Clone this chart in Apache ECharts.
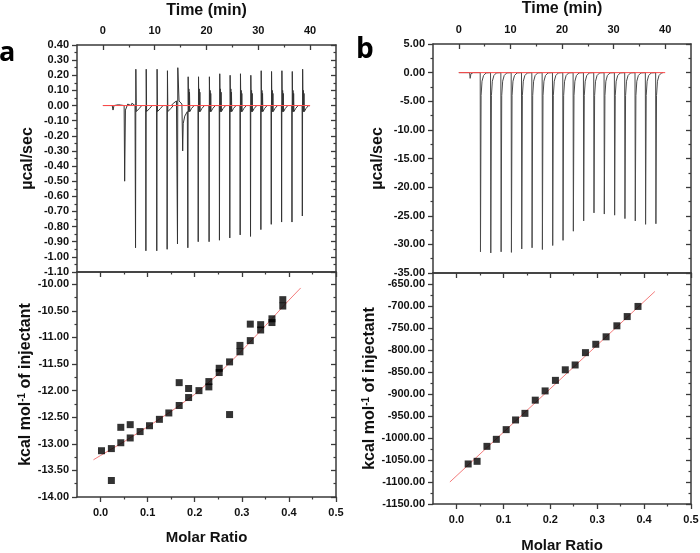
<!DOCTYPE html>
<html><head><meta charset="utf-8">
<script src="https://cdn.jsdelivr.net/npm/echarts@6/dist/echarts.min.js"></script>
<style>html,body{margin:0;padding:0;background:#fff}#c{width:700px;height:553px}</style>
</head><body><div id="c"></div>
<script>
// ================= DATA =================
// tick values
const timeTicks = [0, 10, 20, 30, 40];
const timeMinor = [5, 15, 25, 35];
const ratioTicks = [0.0, 0.1, 0.2, 0.3, 0.4, 0.5];
const ratioMinor = [0.05, 0.15, 0.25, 0.35, 0.45];
const aRawTicks = [0.40, 0.30, 0.20, 0.10, 0.00, -0.10, -0.20, -0.30, -0.40, -0.50, -0.60, -0.70, -0.80, -0.90, -1.00, -1.10];
const aRawMinor = [0.35, 0.25, 0.15, 0.05, -0.05, -0.15, -0.25, -0.35, -0.45, -0.55, -0.65, -0.75, -0.85, -0.95, -1.05];
const aHeatTicks = [-14.0, -13.5, -13.0, -12.5, -12.0, -11.5, -11.0, -10.5, -10.0];
const aHeatMinor = [-13.75, -13.25, -12.75, -12.25, -11.75, -11.25, -10.75, -10.25];
const bRawTicks = [5, 0, -5, -10, -15, -20, -25, -30, -35];
const bRawMinor = [2.5, -2.5, -7.5, -12.5, -17.5, -22.5, -27.5, -32.5];
const bHeatTicks = [-1150, -1100, -1050, -1000, -950, -900, -850, -800, -750, -700, -650];
const bHeatMinor = [-1125, -1075, -1025, -975, -925, -875, -825, -775, -725, -675];

// panel a raw thermogram (time in min, ucal/sec)
const aPre = [[0, 0], [1.8, 0.0], [1.95, -0.03], [2.15, 0.0], [3.0, 0.005], [4.1, 0.0], [4.2, -0.50], [4.35, -0.03], [4.8, 0.01], [5.4, 0.0], [5.6, 0.015], [6.2, 0.0]];
const aInjT = [6.3, 8.3, 10.4, 12.4, 14.4, 16.4, 18.4, 20.5, 22.5, 24.5, 26.5, 28.5, 30.5, 32.5, 34.5, 36.5, 38.5];
const aNeg = [-0.94, -0.96, -0.96, -0.95, -0.915, -0.94, -0.90, -0.90, -0.89, -0.875, -0.855, -0.865, -0.82, -0.785, -0.77, -0.77, -0.73];
const aPos = [0.24, 0.24, 0.24, 0.23, 0.25, 0.19, 0.19, 0.19, 0.21, 0.20, 0.21, 0.20, 0.23, 0.225, 0.23, 0.225, 0.24];
const aSec = [0, 0, 0, 0, 0, 0.11, 0.11, 0.10, 0.11, 0.11, 0.10, 0.10, 0.10, 0.10, 0.10, 0.10, 0.10];
const aHump = [[13.2, 0.0], [13.6, 0.015], [14.2, 0.03], [14.7, 0.03], [15.0, 0.04], [15.25, 0.01], [15.4, -0.30], [15.5, -0.12], [15.8, -0.07], [16.3, -0.04]];
const aBase = [[0, 0], [40, 0]];

// panel a integrated heats
const aRatio = [0.002, 0.023, 0.023, 0.043, 0.043, 0.063, 0.063, 0.084, 0.104, 0.125, 0.145, 0.167, 0.167, 0.187, 0.187, 0.209, 0.230, 0.230, 0.252, 0.252, 0.274, 0.274, 0.296, 0.296, 0.318, 0.318, 0.340, 0.340, 0.364, 0.364, 0.387, 0.387];
const aHeat = [-13.13, -13.09, -13.69, -12.98, -12.69, -12.89, -12.64, -12.77, -12.66, -12.54, -12.42, -12.28, -11.85, -12.13, -11.96, -12.00, -11.83, -11.93, -11.58, -11.66, -11.46, -12.45, -11.15, -11.27, -11.06, -10.75, -10.76, -10.86, -10.65, -10.72, -10.29, -10.41];
const aFitX = [-0.015, 0.0, 0.05, 0.10, 0.15, 0.20, 0.25, 0.30, 0.35, 0.40, 0.425];
const aFitY = [-13.30, -13.22, -12.96, -12.68, -12.39, -12.07, -11.69, -11.25, -10.78, -10.30, -10.07];

// panel b raw thermogram
const bPre = [[0, 0], [2.1, 0], [2.2, -1.0], [2.35, -0.2], [2.8, 0]];
const bInjT = [4.2, 6.2, 8.2, 10.2, 12.2, 14.2, 16.2, 18.2, 20.2, 22.2, 24.2, 26.2, 28.2, 30.2, 32.2, 34.2, 36.2, 38.2];
const bNeg = [-31.3, -31.5, -31.3, -31.4, -30.8, -30.6, -30.9, -30.2, -29.3, -27.7, -25.9, -24.5, -24.7, -24.9, -25.5, -25.9, -26.5, -26.4];
const bBase = [[0, 0], [40, 0]];

// panel b integrated heats
const bRatio = [0.025, 0.044, 0.065, 0.085, 0.106, 0.126, 0.146, 0.168, 0.189, 0.211, 0.232, 0.253, 0.275, 0.297, 0.319, 0.342, 0.364, 0.387];
const bHeat = [-1059, -1053, -1019, -1003, -981, -959, -944, -914, -893, -869, -845, -834, -806, -787, -770, -745, -724, -701];
const bFitX = [-0.014, 0.423];
const bFitY = [-1100, -667];

// ================= BUILD =================
function traceA() {
  const pts = aPre.slice();
  for (let i = 0; i < aInjT.length; i++) {
    const t = aInjT[i];
    if (i === 4) { aHump.slice(0, 3).forEach(p => pts.push(p)); }
    pts.push([t - 0.04, pts[pts.length - 1][1]]);
    pts.push([t, aNeg[i]]);
    pts.push([t + 0.06, aPos[i]]);
    if (i === 4) { aHump.slice(3).forEach(p => pts.push(p)); continue; }
    pts.push([t + 0.14, -0.04]);
    if (aSec[i]) {
      pts.push([t + 0.2, aSec[i]]); pts.push([t + 0.26, -0.04]);
      pts.push([t + 0.32, aSec[i] * 0.8]); pts.push([t + 0.38, -0.04]);
    }
    pts.push([t + 0.7, -0.02]);
    pts.push([t + 1.2, 0.0]);
  }
  pts.push([39.8, -0.005]);
  return pts;
}
function traceB() {
  const pts = bPre.slice();
  for (let i = 0; i < bInjT.length; i++) {
    const t = bInjT[i];
    pts.push([t - 0.05, 0]);
    pts.push([t, bNeg[i]]);
    pts.push([t + 0.12, -4]);
    pts.push([t + 0.3, -1.5]);
    pts.push([t + 0.6, -0.5]);
    pts.push([t + 1.1, -0.05]);
  }
  pts.push([39.6, 0]);
  return pts;
}

const F = '"Liberation Sans", Arial, sans-serif';
const LC = '#3a3a3a';
const xAxis = [], yAxis = [];

function addAxes(list, g, pos, min, max, ticks, minor, opt) {
  const base = { gridIndex: g, type: 'value', min: min, max: max, position: pos, splitLine: { show: false }, silent: true };
  const main = Object.assign({}, base, {
    axisLine: { show: true, onZero: false, lineStyle: { color: LC, width: 1.5 } },
    axisTick: { show: !!ticks, inside: !!opt.inward, length: 5, customValues: ticks || [], lineStyle: { color: LC, width: 1.3 } },
    axisLabel: opt.labels ? { show: true, customValues: ticks, formatter: opt.fmt, margin: opt.margin, fontFamily: F, fontWeight: 'bold', fontSize: 11, color: '#111' } : { show: false }
  });
  if (opt.name) {
    main.name = opt.name; main.nameLocation = 'middle'; main.nameGap = opt.nameGap;
    main.nameTextStyle = { fontFamily: F, fontWeight: 'bold', fontSize: opt.nameSize, color: '#111', rich: opt.rich };
  }
  const idx = list.length;
  list.push(main);
  if (minor) {
    list.push(Object.assign({}, base, {
      axisLine: { show: false, onZero: false },
      axisTick: { show: true, inside: !!opt.inward, length: 2.5, customValues: minor, lineStyle: { color: LC, width: 1.2 } },
      axisLabel: { show: false }
    }));
  }
  return idx;
}

const f2 = v => v.toFixed(2);
const f1 = v => v.toFixed(1);
const fi = v => String(Math.round(v));
const supRich = { sup: { fontSize: 10, fontWeight: 'bold', fontFamily: F, color: '#111', verticalAlign: 'top', padding: [0, 0, 7, 0] } };

const grids = [
  { left: 77, top: 45, width: 259, height: 227 },
  { left: 77, top: 272, width: 259, height: 225 },
  { left: 433, top: 44, width: 258, height: 229 },
  { left: 433, top: 273, width: 258, height: 231 }
].map(g => Object.assign({ outerBoundsMode: 'none', containLabel: false, show: false }, g));

// Panel a top
const xa0 = addAxes(xAxis, 0, 'top', -5, 45, timeTicks, timeMinor, { inward: true, labels: true, fmt: fi, margin: 9, name: 'Time (min)', nameGap: 26, nameSize: 16 });
addAxes(xAxis, 0, 'bottom', -5, 45, null, null, {});
const ya0 = addAxes(yAxis, 0, 'left', -1.10, 0.40, aRawTicks, aRawMinor, { inward: false, labels: true, fmt: f2, margin: 8, name: 'µcal/sec', nameGap: 41, nameSize: 16 });
addAxes(yAxis, 0, 'right', -1.10, 0.40, aRawTicks, aRawMinor, { inward: true });
// Panel a bottom
const xa1 = addAxes(xAxis, 1, 'bottom', -0.05, 0.5, ratioTicks, ratioMinor, { inward: false, labels: true, fmt: f1, margin: 10, name: 'Molar Ratio', nameGap: 33, nameSize: 15 });
addAxes(xAxis, 1, 'top', -0.05, 0.5, ratioTicks, ratioMinor, { inward: true });
const ya1 = addAxes(yAxis, 1, 'left', -14.0, -9.77, aHeatTicks, aHeatMinor, { inward: false, labels: true, fmt: f2, margin: 8, name: 'kcal mol{sup|-1} of injectant', nameGap: 41, nameSize: 16, rich: supRich });
addAxes(yAxis, 1, 'right', -14.0, -9.77, aHeatTicks, aHeatMinor, { inward: true });
// Panel b top
const xb0 = addAxes(xAxis, 2, 'top', -5, 45, timeTicks, timeMinor, { inward: true, labels: true, fmt: fi, margin: 9, name: 'Time (min)', nameGap: 27, nameSize: 16 });
addAxes(xAxis, 2, 'bottom', -5, 45, null, null, {});
const yb0 = addAxes(yAxis, 2, 'left', -35, 5, bRawTicks, bRawMinor, { inward: false, labels: true, fmt: f2, margin: 8, name: 'µcal/sec', nameGap: 47, nameSize: 16 });
addAxes(yAxis, 2, 'right', -35, 5, bRawTicks, bRawMinor, { inward: true });
// Panel b bottom
const xb1 = addAxes(xAxis, 3, 'bottom', -0.05, 0.5, ratioTicks, ratioMinor, { inward: false, labels: true, fmt: f1, margin: 10, name: 'Molar Ratio', nameGap: 34, nameSize: 15 });
addAxes(xAxis, 3, 'top', -0.05, 0.5, ratioTicks, ratioMinor, { inward: true });
const yb1 = addAxes(yAxis, 3, 'left', -1150, -625, bHeatTicks, bHeatMinor, { inward: false, labels: true, fmt: f2, margin: 8, name: 'kcal mol{sup|-1} of injectant', nameGap: 47, nameSize: 16, rich: supRich });
addAxes(yAxis, 3, 'right', -1150, -625, bHeatTicks, bHeatMinor, { inward: true });

const lineS = (data, xi, yi, color, w, z) => ({ type: 'line', data: data, xAxisIndex: xi, yAxisIndex: yi, showSymbol: false, symbol: 'none', silent: true, lineStyle: { color: color, width: w }, z: z || 2, animation: false });
const scatS = (xs, ys, xi, yi) => ({ type: 'scatter', data: xs.map((x, i) => [x, ys[i]]), xAxisIndex: xi, yAxisIndex: yi, symbol: 'rect', symbolSize: 7, itemStyle: { color: '#000' }, silent: true, z: 4, animation: false });

const option = {
  animation: false,
  backgroundColor: '#fff',
  grid: grids,
  xAxis: xAxis,
  yAxis: yAxis,
  graphic: [
    { type: 'text', left: -1, top: 40, style: { text: 'a', font: 'bold 27px "Open Sans", "Liberation Sans", sans-serif', fill: '#000' } },
    { type: 'text', left: 356, top: 36, style: { text: 'b', font: 'bold 28px "Open Sans", "Liberation Sans", sans-serif', fill: '#000' } }
  ],
  series: [
    lineS(traceA(), xa0, ya0, '#333', 1, 2),
    lineS(aBase, xa0, ya0, '#ff4a4a', 1, 3),
    lineS(aFitX.map((x, i) => [x, aFitY[i]]), xa1, ya1, '#f47c7c', 1, 3),
    scatS(aRatio, aHeat, xa1, ya1),
    lineS(traceB(), xb0, yb0, '#4a4a4a', 1, 2),
    lineS(bBase, xb0, yb0, '#ff4a4a', 1, 3),
    lineS(bFitX.map((x, i) => [x, bFitY[i]]), xb1, yb1, '#f47c7c', 1, 3),
    scatS(bRatio, bHeat, xb1, yb1)
  ]
};
const chart = echarts.init(document.getElementById('c'), null, { renderer: 'canvas' });
chart.setOption(option);
</script></body></html>
